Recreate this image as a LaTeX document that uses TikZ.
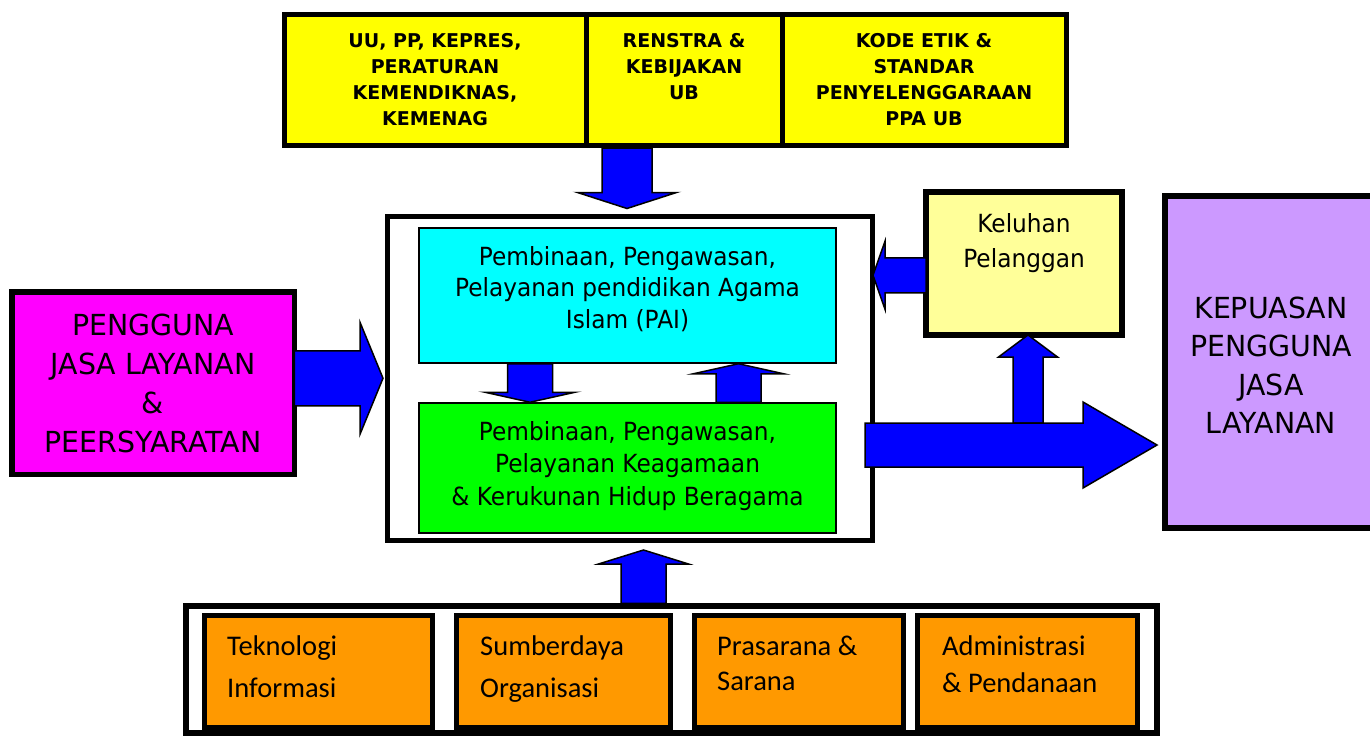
\documentclass[tikz,border=0pt]{standalone}
\usepackage{fontspec}
\setmainfont{DejaVu Sans}
\newfontfamily\tahfont[FakeStretch=0.93]{DejaVu Sans}
\newfontfamily\tahcaps[FakeStretch=0.98]{DejaVu Sans}
\newfontfamily\calfont{Carlito}
\usetikzlibrary{calc}
\definecolor{cblue}{HTML}{0000FF}
\definecolor{cyel}{HTML}{FFFF00}
\definecolor{clyel}{HTML}{FFFF99}
\definecolor{ccyan}{HTML}{00FFFF}
\definecolor{cgreen}{HTML}{00FF00}
\definecolor{cmag}{HTML}{FF00FF}
\definecolor{cpurp}{HTML}{CC99FF}
\definecolor{corange}{HTML}{FF9900}
\tikzset{
  bx/.style={draw=black, line width=#1, inner sep=0pt},
  blockarrow/.style={draw=black, fill=cblue, line width=1.5pt, line join=miter},
  ctext/.style n args={3}{font={#1\fontsize{#2}{#3}\selectfont}, align=center, anchor=north, inner sep=0pt},
  ltext/.style n args={2}{font={\calfont\fontsize{#1}{#2}\selectfont}, align=left, anchor=north west, inner sep=0pt},
}
% #1 tail, #2 tip, #3 shaft half width, #4 head half width, #5 head length
\newcommand\blockarr[5]{%
  \coordinate (bac) at ($(#2)!#5!(#1)$);
  \draw[blockarrow] ($(#1)!#3!90:(#2)$) -- ($(bac)!#3!90:(#2)$) -- ($(bac)!#4!90:(#2)$) -- (#2)
    -- ($(bac)!#4!-90:(#2)$) -- ($(bac)!#3!-90:(#2)$) -- ($(#1)!#3!-90:(#2)$) -- cycle;}
\begin{document}
\begin{tikzpicture}[x=1pt,y=-1pt]
\useasboundingbox (0,0) rectangle (1370,736);
\clip (0,0) rectangle (1370,736);
% top strip
\node[bx=5pt, fill=cyel, minimum width=302pt, minimum height=131pt] (law) at (435,80) {};
\node[bx=5pt, fill=cyel, minimum width=196pt, minimum height=131pt] (renstra) at (684,80) {};
\node[bx=5pt, fill=cyel, minimum width=284pt, minimum height=131pt] (kode) at (924,80) {};
\node[ctext={\bfseries}{19}{26}] (lawtxt) at (435,28.8) {\strut UU, PP, KEPRES,\\PERATURAN\\KEMENDIKNAS,\\KEMENAG};
\node[ctext={\bfseries}{19}{26}] (renstratxt) at (684,28.8) {\strut RENSTRA \&\\KEBIJAKAN\\UB};
\node[ctext={\bfseries}{19}{26}] (kodetxt) at (924,28.8) {\strut KODE ETIK \&\\STANDAR\\PENYELENGGARAAN\\PPA UB};
% main box
\node[bx=5pt, fill=white, minimum width=485pt, minimum height=324.5pt] (main) at (630,378.25) {};
\node[bx=1.5pt, fill=ccyan, minimum width=417pt, minimum height=135pt] (cyan) at (627.5,295.5) {};
\node[bx=1.5pt, fill=cgreen, minimum width=417pt, minimum height=130pt] (green) at (627.5,468) {};
\node[ctext={\tahfont}{25}{31.5}] (cyantxt) at (627.5,243) {\strut Pembinaan, Pengawasan,\\Pelayanan pendidikan Agama\\Islam (PAI)};
\node[ctext={\tahfont}{25}{32.5}] (greentxt) at (627.5,417.25) {\strut Pembinaan, Pengawasan,\\Pelayanan Keagamaan\\\& Kerukunan Hidup Beragama};
% left magenta
\node[bx=5.5pt, fill=cmag, minimum width=282.5pt, minimum height=182.5pt] (mag) at (153.25,383.25) {};
\node[ctext={\tahcaps}{29}{39}] (magtxt) at (153,307.7) {\strut PENGGUNA\\JASA LAYANAN\\\&\\PEERSYARATAN};
% keluhan
\node[bx=6pt, fill=clyel, minimum width=196pt, minimum height=142.5pt] (kel) at (1024,263.25) {};
\node[ctext={\tahfont}{25}{35}] (keltxt) at (1024,207.5) {\strut Keluhan\\Pelanggan};
% purple
\node[bx=6pt, fill=cpurp, minimum width=220pt, minimum height=332.5pt] (purp) at (1275,361.75) {};
\node[ctext={\tahcaps}{29}{38.5}] (purptxt) at (1271,291) {\strut KEPUASAN\\PENGGUNA\\JASA\\LAYANAN};
% bottom strip
\node[bx=5.5pt, fill=white, minimum width=971pt, minimum height=127pt] (obox) at (671.5,669.5) {};
\node[bx=5pt, fill=corange, minimum width=228pt, minimum height=112pt] (o1) at (318.5,671.5) {};
\node[bx=5pt, fill=corange, minimum width=214pt, minimum height=112pt] (o2) at (563,671.5) {};
\node[bx=5pt, fill=corange, minimum width=209pt, minimum height=112pt] (o3) at (799,671.5) {};
\node[bx=5pt, fill=corange, minimum width=220pt, minimum height=112pt] (o4) at (1027.5,671.5) {};
\node[ltext={28.5}{42}] (o1txt) at (227,625.6) {\strut Teknologi\\Informasi};
\node[ltext={28.5}{42}] (o2txt) at (480,625.6) {\strut Sumberdaya\\Organisasi};
\node[ltext={28.5}{35}] (o3txt) at (717,630.5) {\strut Prasarana \&\\Sarana};
\node[ltext={28.5}{37}] (o4txt) at (942,629.1) {\strut Administrasi\\\& Pendanaan};
% arrows
\coordinate (a1t) at ($(renstra.south)+(-57,0)$);
\coordinate (a1h) at ($(main.north -| a1t)+(0,-5)$);
\blockarr{a1t}{a1h}{25pt}{49.5pt}{16pt}
\coordinate (a2t) at ($(mag.east |- main.west)+(-3,0)$);
\coordinate (a2h) at ($(main.west)+(-2,0)$);
\blockarr{a2t}{a2h}{27.5pt}{56pt}{23pt}
\coordinate (a3t) at ($(cyan.south)+(-97.5,0)$);
\coordinate (a3h) at ($(green.north)+(-97.5,0)$);
\blockarr{a3t}{a3h}{22.5pt}{45pt}{10pt}
\coordinate (a4t) at ($(green.north)+(111,0)$);
\coordinate (a4h) at ($(cyan.south)+(111,0)$);
\blockarr{a4t}{a4h}{22.5pt}{45pt}{10pt}
\coordinate (a5t) at ($(kel.west)+(3,12)$);
\coordinate (a5h) at ($(main.east |- a5t)+(-2,0)$);
\blockarr{a5t}{a5h}{17.5pt}{34pt}{12pt}
\coordinate (a6t) at ($(main.east)+(-10,66.75)$);
\coordinate (a6h) at ($(purp.west |- a6t)+(-5,0)$);
\coordinate (a7t) at ($(kel.south |- a6t)+(4,-22)$);
\coordinate (a7h) at ($(kel.south)+(4,-2.5)$);
\blockarr{a7t}{a7h}{15pt}{29.5pt}{22pt}
\blockarr{a6t}{a6h}{22pt}{43pt}{74pt}
\coordinate (a8t) at ($(obox.north)+(-28,0)$);
\coordinate (a8h) at ($(main.south -| a8t)+(0,7)$);
\blockarr{a8t}{a8h}{22.5pt}{45pt}{14pt}
\end{tikzpicture}
\end{document}
